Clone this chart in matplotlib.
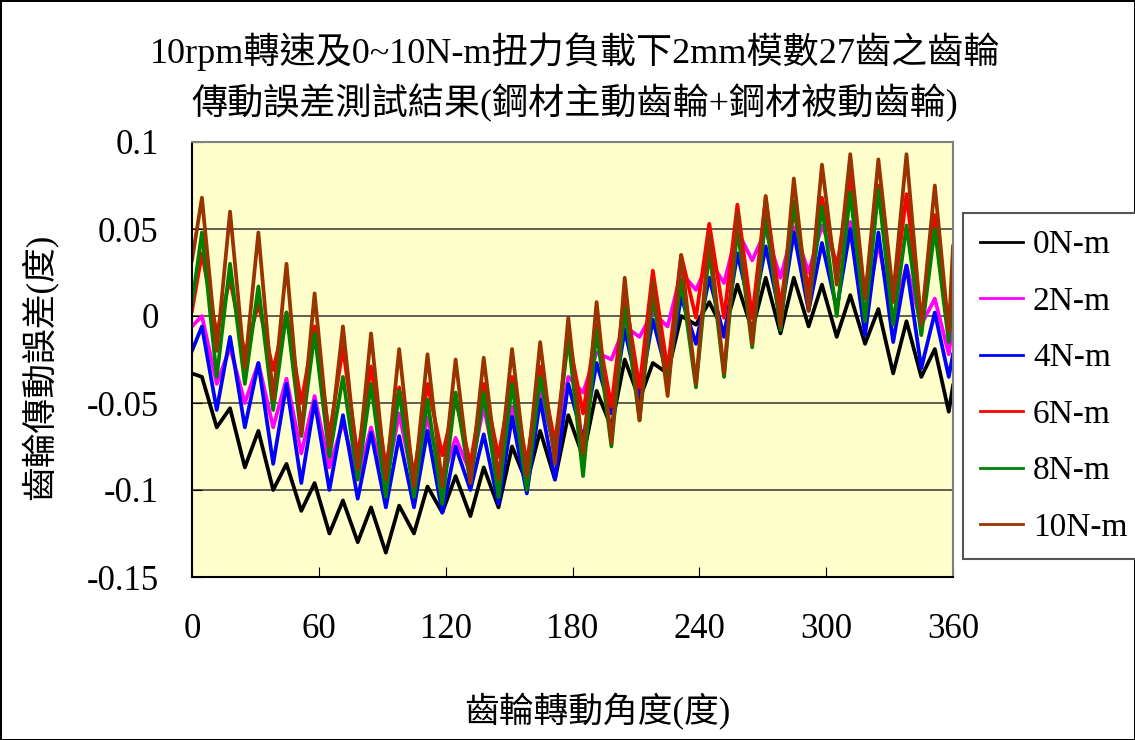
import matplotlib.pyplot as plt

plt.rcParams['font.family'] = ['Liberation Serif', 'Noto Sans CJK TC']

# tooth peaks / troughs (deg), 27 teeth
peak_deg = [4.7, 18.0, 31.4, 44.7, 58.0, 71.4, 84.7, 98.0, 111.4, 124.7, 138.0, 151.4, 164.7, 178.0,
            191.4, 204.7, 218.0, 231.4, 244.7, 258.0, 271.4, 284.7, 298.0, 311.4, 324.7, 338.0, 351.4]
trough_deg = [11.7, 25.0, 38.4, 51.7, 65.0, 78.4, 91.7, 105.0, 118.4, 131.7, 145.0, 158.4, 171.7, 185.0,
              198.4, 211.7, 225.0, 238.4, 251.7, 265.0, 278.4, 291.7, 305.0, 318.4, 331.7, 345.0, 358.0]

# 0 N-m
peaks_0 = [-0.035, -0.053, -0.066, -0.085, -0.096, -0.106, -0.110, -0.109, -0.098, -0.092, -0.087, -0.075, -0.066, -0.057,
           -0.043, -0.025, -0.027, 0.000, 0.008, 0.018, 0.022, 0.022, 0.018, 0.012, 0.004, -0.003, -0.019]
troughs_0 = [-0.064, -0.087, -0.100, -0.112, -0.125, -0.130, -0.136, -0.125, -0.113, -0.115, -0.110, -0.096, -0.094, -0.081,
             -0.064, -0.048, -0.033, -0.005, -0.009, -0.008, -0.010, -0.006, -0.012, -0.016, -0.033, -0.035, -0.055]
ends_0 = [-0.033, -0.040]

# 2 N-m
peaks_2 = [0.000, -0.018, -0.027, -0.036, -0.046, -0.061, -0.064, -0.056, -0.058, -0.070, -0.052, -0.052, -0.043, -0.035,
           -0.021, -0.006, 0.002, 0.025, 0.032, 0.049, 0.049, 0.051, 0.052, 0.054, 0.042, 0.029, 0.010]
troughs_2 = [-0.039, -0.050, -0.064, -0.079, -0.087, -0.094, -0.096, -0.098, -0.094, -0.090, -0.094, -0.092, -0.077, -0.044,
             -0.025, -0.012, -0.006, 0.015, 0.019, 0.032, 0.022, 0.025, 0.031, 0.000, -0.002, -0.005, -0.022]
ends_2 = [-0.006, -0.003]

# 4 N-m
peaks_4 = [-0.006, -0.012, -0.027, -0.039, -0.049, -0.057, -0.067, -0.069, -0.066, -0.075, -0.068, -0.058, -0.048, -0.039,
           -0.027, -0.008, -0.002, 0.011, 0.022, 0.036, 0.040, 0.048, 0.042, 0.050, 0.048, 0.029, 0.002]
troughs_4 = [-0.054, -0.064, -0.085, -0.096, -0.100, -0.105, -0.110, -0.110, -0.113, -0.100, -0.108, -0.102, -0.094, -0.071,
             -0.056, -0.046, -0.035, -0.016, -0.012, -0.001, -0.001, 0.003, 0.004, -0.011, -0.015, -0.030, -0.035]
ends_4 = [-0.020, -0.022]

# 6 N-m
peaks_6 = [0.036, 0.021, 0.007, 0.002, -0.006, -0.018, -0.029, -0.041, -0.039, -0.048, -0.039, -0.035, -0.029, -0.012,
           -0.005, 0.013, 0.026, 0.035, 0.053, 0.064, 0.068, 0.061, 0.068, 0.081, 0.075, 0.070, 0.058]
troughs_6 = [-0.010, -0.022, -0.031, -0.050, -0.069, -0.081, -0.087, -0.092, -0.080, -0.085, -0.081, -0.085, -0.073, -0.056,
             -0.052, -0.041, -0.031, -0.001, -0.001, -0.001, 0.005, 0.015, 0.027, 0.010, 0.008, -0.003, -0.011]
ends_6 = [0.003, 0.008]

# 8 N-m
peaks_8 = [0.048, 0.030, 0.017, 0.002, -0.010, -0.035, -0.039, -0.043, -0.048, -0.044, -0.044, -0.039, -0.035, -0.012,
           -0.008, 0.005, 0.011, 0.021, 0.038, 0.051, 0.057, 0.066, 0.063, 0.071, 0.073, 0.052, 0.050]
troughs_8 = [-0.035, -0.039, -0.054, -0.069, -0.081, -0.094, -0.104, -0.104, -0.108, -0.096, -0.104, -0.100, -0.080, -0.092,
             -0.075, -0.060, -0.040, -0.041, -0.035, -0.018, -0.008, 0.005, 0.000, -0.003, -0.005, -0.011, -0.015]
ends_8 = [0.007, 0.020]

# 10 N-m
peaks_10 = [0.068, 0.060, 0.048, 0.030, 0.013, -0.006, -0.010, -0.019, -0.022, -0.025, -0.024, -0.019, -0.015, -0.001,
            0.008, 0.022, 0.021, 0.035, 0.047, 0.060, 0.069, 0.079, 0.087, 0.093, 0.090, 0.093, 0.075]
troughs_10 = [-0.020, -0.030, -0.048, -0.068, -0.075, -0.088, -0.094, -0.098, -0.098, -0.096, -0.094, -0.092, -0.085, -0.079,
              -0.073, -0.060, -0.046, -0.039, -0.033, -0.016, -0.006, 0.003, 0.018, 0.010, 0.012, -0.005, -0.009]
ends_10 = [0.032, 0.040]

labels = ['0N-m', '2N-m', '4N-m', '6N-m', '8N-m', '10N-m']
colors = ['#000000', '#FF00FF', '#0000FF', '#FF0000', '#008000', '#993300']

x_ticks = [0, 60, 120, 180, 240, 300, 360]
y_ticks = [-0.15, -0.1, -0.05, 0, 0.05, 0.1]
y_ticklabels = ['-0.15', '-0.1', '-0.05', '0', '0.05', '0.1']


def zigzag(peaks, troughs, ends):
    xs = [0]
    ys = [ends[0]]
    for pd, td, p, t in zip(peak_deg, trough_deg, peaks, troughs):
        xs += [pd, td]
        ys += [p, t]
    xs.append(360)
    ys.append(ends[1])
    return xs, ys


series = [(peaks_0, troughs_0, ends_0), (peaks_2, troughs_2, ends_2), (peaks_4, troughs_4, ends_4),
          (peaks_6, troughs_6, ends_6), (peaks_8, troughs_8, ends_8), (peaks_10, troughs_10, ends_10)]

fig = plt.figure(figsize=(11.35, 7.40), dpi=100)
fig.patch.set_edgecolor('black')
fig.patch.set_linewidth(2)
ax = fig.add_axes([192/1135, 1-577/740, (953-192)/1135, (577-142)/740])
ax.set_facecolor('#FFFFCC')

for (pk, tr, en), lab, col in zip(series, labels, colors):
    xs, ys = zigzag(pk, tr, en)
    ax.plot(xs, ys, color=col, lw=2.7, label=lab)

ax.set_xlim(0, 360)
ax.set_ylim(-0.15, 0.1)
ax.set_xticks(x_ticks)
ax.set_yticks(y_ticks)
ax.set_yticklabels(y_ticklabels)
ax.tick_params(axis='both', direction='in', length=7, labelsize=25)
ax.tick_params(axis='x', pad=26)
ax.tick_params(axis='y', pad=24)

for yv in [-0.1, -0.05, 0, 0.05]:
    ax.axhline(yv, color='#333333', lw=1.1, zorder=0.5)

ax.spines['left'].set_color('black')
ax.spines['bottom'].set_color('black')
ax.spines['top'].set_color('#808080')
ax.spines['right'].set_color('#808080')
for s in ax.spines.values():
    s.set_linewidth(1.5)

fig.text(575/1135, 1-52/740, '10rpm轉速及0~10N-m扭力負載下2mm模數27齒之齒輪', ha='center', va='center', fontsize=26)
fig.text(575/1135, 1-103/740, '傳動誤差測試結果(鋼材主動齒輪+鋼材被動齒輪)', ha='center', va='center', fontsize=26)
fig.text(40/1135, 1-367/740, '齒輪傳動誤差(度)', rotation=90, ha='center', va='center', fontsize=25)
fig.text(597/1135, 1-712/740, '齒輪轉動角度(度)', ha='center', va='center', fontsize=25)

leg = ax.legend(loc='upper left', bbox_to_anchor=(963/1135, 1-213/740), bbox_transform=fig.transFigure,
                fontsize=24, frameon=True, fancybox=False, framealpha=1, edgecolor='#555555',
                handlelength=1.3, handletextpad=0.3, labelspacing=0.78, borderpad=0.5, borderaxespad=0)
leg.get_frame().set_linewidth(1.5)
for line in leg.get_lines():
    line.set_linewidth(2)

plt.savefig('out.png', dpi=100)
